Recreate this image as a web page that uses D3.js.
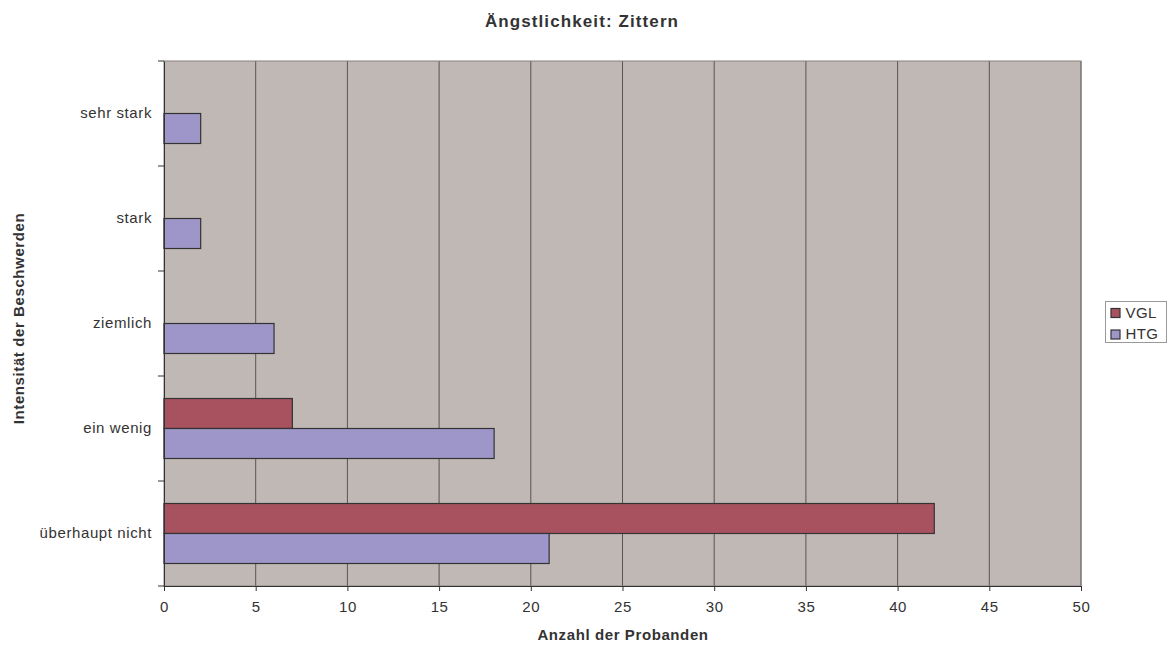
<!DOCTYPE html>
<html>
<head>
<meta charset="utf-8">
<script src="https://cdn.jsdelivr.net/npm/d3@7"></script>
<style>
  body { margin: 0; background: #fff; }
  text { font-family: "Liberation Sans", Arial, sans-serif; fill: #333; }
</style>
</head>
<body>
<div class="chart"></div>
<script>
var categories = ['sehr stark', 'stark', 'ziemlich', 'ein wenig', 'überhaupt nicht'];
var seriesNames = ['VGL', 'HTG'];
var vglValues = [0, 0, 0, 7, 42];
var htgValues = [2, 2, 6, 18, 21];
var xTicks = [0, 5, 10, 15, 20, 25, 30, 35, 40, 45, 50];
var colors = ['#a8525f', '#9e96c8'];

var width = 1176,
    height = 646,
    plotLeft = 164,
    plotRight = 1081,
    plotTop = 61,
    plotBottom = 586;

var svg = d3.select('.chart')
  .append('svg')
    .attr('width', width)
    .attr('height', height);

var x = d3.scaleLinear().domain([0, 50]).range([plotLeft, plotRight]);
var y = d3.scaleBand().domain(categories).range([plotTop, plotBottom]);
var inner = d3.scaleBand().domain(seriesNames)
    .range([0, y.bandwidth()]).paddingOuter(0.75).paddingInner(0);

svg.append('rect')
    .attr('x', plotLeft)
    .attr('y', plotTop)
    .attr('width', plotRight - plotLeft)
    .attr('height', plotBottom - plotTop)
    .attr('fill', '#c0b8b5');

// vertical grid lines
svg.append('g').selectAll('line')
  .data(xTicks.slice(1))
  .enter().append('line')
    .attr('x1', function(d) { return x(d); })
    .attr('x2', function(d) { return x(d); })
    .attr('y1', plotTop)
    .attr('y2', plotBottom)
    .attr('stroke', '#555')
    .attr('stroke-width', 1);

svg.append('rect')
    .attr('x', plotLeft)
    .attr('y', plotTop)
    .attr('width', plotRight - plotLeft)
    .attr('height', plotBottom - plotTop)
    .attr('fill', 'none')
    .attr('stroke', '#8a8080')
    .attr('stroke-width', 1);

var rows = categories.map(function(c, i) {
  return [{ cat: c, s: 'VGL', v: vglValues[i] }, { cat: c, s: 'HTG', v: htgValues[i] }];
});

svg.append('g').selectAll('g')
  .data(rows)
  .enter().append('g')
    .attr('transform', function(d) { return 'translate(0,' + y(d[0].cat) + ')'; })
  .selectAll('rect')
  .data(function(d) { return d.filter(function(e) { return e.v > 0; }); })
  .enter().append('rect')
    .attr('x', x(0))
    .attr('y', function(d) { return inner(d.s); })
    .attr('width', function(d) { return x(d.v) - x(0); })
    .attr('height', inner.bandwidth())
    .attr('fill', function(d) { return colors[seriesNames.indexOf(d.s)]; })
    .attr('stroke', '#333')
    .attr('stroke-width', 1.2);

// x axis
var xAxis = svg.append('g')
    .attr('transform', 'translate(0,' + plotBottom + ')')
    .call(d3.axisBottom(x).tickValues(xTicks).tickSize(5).tickPadding(10));
xAxis.select('.domain').attr('stroke', '#333');
xAxis.selectAll('.tick line').attr('stroke', '#333');
xAxis.selectAll('text')
    .style('font-size', '15px')
    .style('letter-spacing', '0.6px')
    .attr('fill', '#333');

// y axis with ticks on band edges
var yAxis = svg.append('g')
    .attr('transform', 'translate(' + plotLeft + ',0)')
    .call(d3.axisLeft(y).tickSize(0).tickPadding(12));
yAxis.select('.domain').attr('stroke', '#333');
yAxis.selectAll('text')
    .style('font-size', '15px')
    .style('letter-spacing', '0.6px')
    .attr('fill', '#333');
yAxis.selectAll('.edge')
  .data(categories.concat(['end']))
  .enter().append('line')
    .attr('x1', -6)
    .attr('x2', 0)
    .attr('y1', function(d, i) { return plotTop + i * y.step(); })
    .attr('y2', function(d, i) { return plotTop + i * y.step(); })
    .attr('stroke', '#333');

svg.append('text')
    .attr('x', 582)
    .attr('y', 27)
    .attr('text-anchor', 'middle')
    .style('font-size', '17px')
    .style('letter-spacing', '1.1px')
    .style('font-weight', 'bold')
    .text('Ängstlichkeit: Zittern');

svg.append('text')
    .attr('x', 623)
    .attr('y', 640)
    .attr('text-anchor', 'middle')
    .style('font-size', '15px')
    .style('letter-spacing', '0.6px')
    .style('font-weight', 'bold')
    .text('Anzahl der Probanden');

svg.append('text')
    .attr('transform', 'translate(24,' + ((plotTop + plotBottom) / 2 - 5) + ') rotate(-90)')
    .attr('text-anchor', 'middle')
    .style('font-size', '15px')
    .style('letter-spacing', '0.6px')
    .style('font-weight', 'bold')
    .text('Intensität der Beschwerden');

// legend
var legend = svg.append('g').attr('transform', 'translate(1105.5,301.5)');
legend.append('rect')
    .attr('width', 61)
    .attr('height', 41)
    .attr('fill', '#fff')
    .attr('stroke', '#999');
seriesNames.forEach(function(name, i) {
  legend.append('rect')
      .attr('x', 5.5)
      .attr('y', 7 + i * 21.5)
      .attr('width', 9)
      .attr('height', 9)
      .attr('fill', colors[i])
      .attr('stroke', '#333')
      .attr('stroke-width', 1.2);
  legend.append('text')
      .attr('x', 20)
      .attr('y', 16 + i * 21.5)
      .style('font-size', '15px')
      .style('letter-spacing', '0.4px')
      .text(name);
});
</script>
</body>
</html>
